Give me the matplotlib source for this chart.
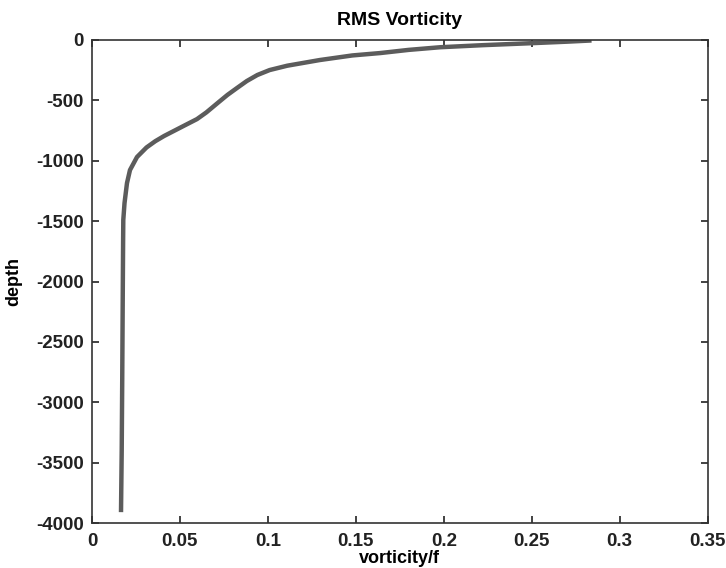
import matplotlib
matplotlib.use("Agg")
import matplotlib.pyplot as plt

# RMS vorticity profile (vorticity/f vs depth)
vorticity = [0.284, 0.270, 0.249, 0.222, 0.198, 0.180, 0.164, 0.148, 0.1295, 0.111,
             0.101, 0.094, 0.0880, 0.0824, 0.0770, 0.0720, 0.0650, 0.0597, 0.053,
             0.047, 0.041, 0.036, 0.031, 0.0256, 0.0216, 0.0199, 0.0185, 0.0178,
             0.0177, 0.0175, 0.0172, 0.0169, 0.0165]
depth = [-4, -14, -27, -43, -60, -82, -108, -128, -166, -213,
         -249, -290, -340, -398, -455, -515, -600, -655, -705,
         -750, -795, -838, -890, -969, -1077, -1185, -1350, -1490,
         -1657, -2100, -2800, -3400, -3910]

xticks = [0, 0.05, 0.1, 0.15, 0.2, 0.25, 0.3, 0.35]
xticklabels = ["0", "0.05", "0.1", "0.15", "0.2", "0.25", "0.3", "0.35"]
yticks = [0, -500, -1000, -1500, -2000, -2500, -3000, -3500, -4000]

plt.rcParams['font.family'] = ['Liberation Sans', 'DejaVu Sans']

fig = plt.figure(figsize=(7.26, 5.68), dpi=100)
ax = fig.add_axes([0.1267, 0.0792, 0.848, 0.8504])
ax.plot(vorticity, depth, color='#5c5c5c', lw=3.2, solid_capstyle='butt',
        solid_joinstyle='round')
ax.set_xlim(0, 0.35)
ax.set_ylim(-4000, 0)
ax.set_xticks(xticks)
ax.set_xticklabels(xticklabels)
ax.set_yticks(yticks)
ax.set_yticklabels([str(v) for v in yticks])
ax.tick_params(direction='in', top=True, right=True, length=5, width=1.2,
               labelsize=13.5, colors='#222222')
ax.tick_params(axis='y', pad=6)
ax.tick_params(axis='x', pad=7)
for lab in ax.get_xticklabels() + ax.get_yticklabels():
    lab.set_fontweight('bold')
for s in ax.spines.values():
    s.set_linewidth(1.2)
    s.set_color('#333333')
ax.set_title('RMS Vorticity', fontsize=14, fontweight='bold', pad=11)
ax.set_xlabel('vorticity/f', fontsize=13, fontweight='bold')
ax.xaxis.set_label_coords(0.5, -0.0725)
ax.xaxis.label.set_va('center')
ax.set_ylabel('depth', fontsize=13, fontweight='bold')
ax.yaxis.set_label_coords(-0.1266, 0.499)
ax.yaxis.label.set_va('center')
fig.savefig('out.png', dpi=100)
